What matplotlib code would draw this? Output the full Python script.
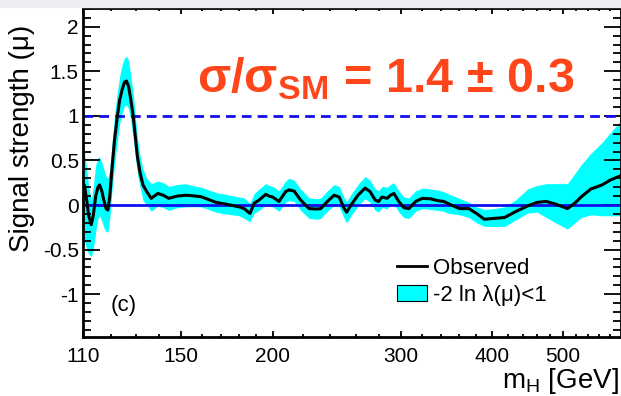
import numpy as np
import matplotlib
matplotlib.use('Agg')
import matplotlib.pyplot as plt
from matplotlib.lines import Line2D
from matplotlib.patches import Patch, Rectangle
from matplotlib.ticker import FixedLocator, NullFormatter

plt.rcParams['font.family'] = ['Liberation Sans', 'DejaVu Sans']
plt.rcParams['mathtext.fontset'] = 'custom'
plt.rcParams['mathtext.rm'] = 'Liberation Sans'
plt.rcParams['mathtext.it'] = 'Liberation Sans:italic'
plt.rcParams['mathtext.bf'] = 'Liberation Sans:bold'
plt.rcParams['axes.unicode_minus'] = False

# data
mass = [110, 110.5, 111.3, 112, 112.9, 113.6, 114.5, 115.3, 115.9, 116.7, 117.5,
        118.3, 119, 119.7, 120.5, 121.5, 122.5, 123.5, 124.5, 125.4, 126.2, 127,
        127.8, 128.9, 129.8, 130.6, 131.7, 132.9, 134.5, 136.4, 139.3, 141.7,
        144.1, 148, 152, 155, 159.6,
        167.3, 172.6, 179.9, 182.9, 186.2, 188.7, 191.7, 195.7, 197.8, 200, 204.1,
        208.4, 210.6, 214, 218.5, 224.4, 230.4, 232.8, 237.7, 242.8, 246.7, 250.7,
        252.6, 256.1, 261.8, 267.7, 272, 276.4, 279.4, 282.4, 287, 290, 293.1,
        297.8, 302.6, 307.4, 314, 320.7, 329.2, 336.1, 343.3, 347, 360.6, 371.4,
        380.6, 390, 401.7, 415.6, 430, 447, 460.4, 474.2, 488.5, 506.8, 518.5,
        529, 545.6, 565, 580, 600]
mu_obs = [0.24, 0.22, 0.05, -0.12, -0.22, -0.12, 0.1, 0.2, 0.225, 0.16, 0.05,
          -0.04, -0.056, 0.1, 0.4, 0.73, 0.98, 1.18, 1.3, 1.38, 1.39, 1.33,
          1.2, 0.99, 0.75, 0.54, 0.36, 0.225, 0.15, 0.075, 0.13, 0.11,
          0.075, 0.1, 0.11, 0.105, 0.094,
          0.03, 0.01, -0.02, -0.04, -0.095, 0.02, 0.056, 0.12, 0.10, 0.09, 0.04,
          0.15, 0.17, 0.157, 0.056, -0.04, -0.045, -0.04, 0.04, 0.11, 0.09, -0.04,
          -0.08, 0.0, 0.11, 0.19, 0.15, 0.056, 0.04, 0.09, 0.075, 0.11, 0.13,
          0.04, -0.03, -0.04, 0.04, 0.075, 0.07, 0.05, 0.04, 0.02, -0.04, -0.04,
          -0.095, -0.16, -0.15, -0.14, -0.075, -0.01, 0.03, 0.04, 0.01, -0.04, 0.02,
          0.09, 0.18, 0.225, 0.28, 0.33]
band_lo = [-0.35, -0.4, -0.5, -0.55, -0.58, -0.5, -0.3, -0.15, -0.12, -0.18, -0.25,
           -0.3, -0.3, -0.15, 0.15, 0.45, 0.7, 0.92, 1.04, 1.11, 1.12, 1.08,
           0.96, 0.75, 0.53, 0.35, 0.2, 0.05, 0.0, -0.07, -0.01, -0.03,
           -0.06, -0.03, -0.02, -0.02, -0.02,
           -0.08, -0.1, -0.12, -0.15, -0.19, -0.09, -0.06, 0.0, -0.01, -0.02, -0.07,
           0.03, 0.05, 0.04, -0.06, -0.15, -0.16, -0.15, -0.07, 0.0, -0.02, -0.15,
           -0.2, -0.12, -0.01, 0.07, 0.03, -0.06, -0.08, -0.03, -0.04, 0.0, 0.02,
           -0.08, -0.14, -0.15, -0.07, -0.04, -0.05, -0.06, -0.07, -0.09, -0.11, -0.14,
           -0.2, -0.24, -0.24, -0.24, -0.17, -0.09, -0.08, -0.14, -0.2, -0.27, -0.2,
           -0.14, -0.11, -0.12, -0.12, -0.12]
band_hi = [0.64, 0.6, 0.4, 0.2, 0.05, 0.2, 0.45, 0.53, 0.54, 0.48, 0.4,
           0.32, 0.3, 0.4, 0.68, 1.0, 1.25, 1.45, 1.58, 1.65, 1.67, 1.62,
           1.47, 1.25, 0.98, 0.75, 0.55, 0.4, 0.3, 0.24, 0.27, 0.25,
           0.21, 0.23, 0.24, 0.22, 0.2,
           0.14, 0.12, 0.09, 0.08, 0.02, 0.13, 0.18, 0.24, 0.22, 0.21, 0.16,
           0.27, 0.30, 0.28, 0.18, 0.08, 0.07, 0.08, 0.16, 0.23, 0.21, 0.08,
           0.04, 0.12, 0.23, 0.32, 0.28, 0.18, 0.16, 0.21, 0.2, 0.23, 0.25,
           0.16, 0.09, 0.08, 0.16, 0.19, 0.18, 0.17, 0.15, 0.13, 0.075, 0.03,
           -0.02, -0.05, -0.04, -0.02, 0.056, 0.18, 0.22, 0.24, 0.24, 0.24, 0.35,
           0.45, 0.58, 0.7, 0.81, 0.95]

x_major = [110, 150, 200, 300, 400, 500]
x_minor = [120, 130, 140, 160, 170, 180, 190, 220, 240, 260, 280, 320, 340, 360,
           380, 420, 440, 460, 480, 520, 540, 560, 580]
y_major = [-1, -0.5, 0, 0.5, 1, 1.5, 2]
y_labels = ['-1', '-0.5', '0', '0.5', '1', '1.5', '2']

W, H = 621, 396
fig = plt.figure(figsize=(W / 100, H / 100), dpi=100)
ax = fig.add_axes([83 / W, 1 - 337 / H, 1 - 83 / W, (337 - 8) / H])

ax.fill_between(mass, band_lo, band_hi, color='#00ffff', lw=0, zorder=1)
ax.axhline(0, color='#1010ee', lw=2, zorder=2)
ax.axhline(1, color='#1010ee', lw=2, ls=(0, (3.5, 2.2)), zorder=2)
ax.plot(mass, mu_obs, color='black', lw=2.2, zorder=3)

ax.set_xscale('log')
ax.set_xlim(110, 600)
ax.set_ylim(-1.48, 2.21)

ax.xaxis.set_major_locator(FixedLocator(x_major))
ax.xaxis.set_minor_locator(FixedLocator(x_minor))
ax.set_xticklabels([str(v) for v in x_major])
ax.xaxis.set_minor_formatter(NullFormatter())
ax.set_yticks(y_major)
ax.set_yticklabels(y_labels)
ax.yaxis.set_minor_locator(FixedLocator(np.arange(-1.4, 2.21, 0.1)))

ax.tick_params(axis='both', which='both', direction='in', top=True, right=True,
               width=1.3, labelsize=15)
ax.tick_params(axis='y', which='major', length=12, pad=3)
ax.tick_params(axis='y', which='minor', length=5.5)
ax.tick_params(axis='x', which='major', length=4.5, pad=7)
ax.tick_params(axis='x', which='minor', length=2.5)
for s in ax.spines.values():
    s.set_linewidth(2)

fig.text(22 / W, 1 - 138 / H, 'Signal strength (\u03bc)', rotation=90,
         ha='center', va='center', fontsize=20)
fig.text(619 / W, 1 - 388 / H, r'm$_{\rm H}$ [GeV]', ha='right', va='baseline',
         fontsize=20)

big_label = r'$\mathbf{\sigma/\sigma_{SM}}$' + ' = 1.4 \u00b1 0.3'
fig.text(197 / W, 1 - 92 / H, big_label,
         color='#ff461a', fontsize=35, fontweight='bold', ha='left', va='baseline')

fig.text(111 / W, 1 - 305 / H, '(c)', fontsize=16, ha='left', va='center')

handles = [Line2D([], [], color='black', lw=2),
           Patch(facecolor='#00ffff', edgecolor='black', lw=0.8)]
ax.legend(handles, ['Observed', '-2 ln \u03bb(\u03bc)<1'], frameon=False,
          fontsize=16, loc='upper left',
          bbox_to_anchor=((397 - 83) / (W - 83), (337 - 258) / 329),
          handlelength=1.35, handletextpad=0.25, labelspacing=0.25,
          borderaxespad=0, borderpad=0)

fig.patches.append(Rectangle((0, 1 - 7 / H), 1, 7 / H, transform=fig.transFigure,
                             color='#eceef1', zorder=0))

fig.savefig('out.png', dpi=100)
